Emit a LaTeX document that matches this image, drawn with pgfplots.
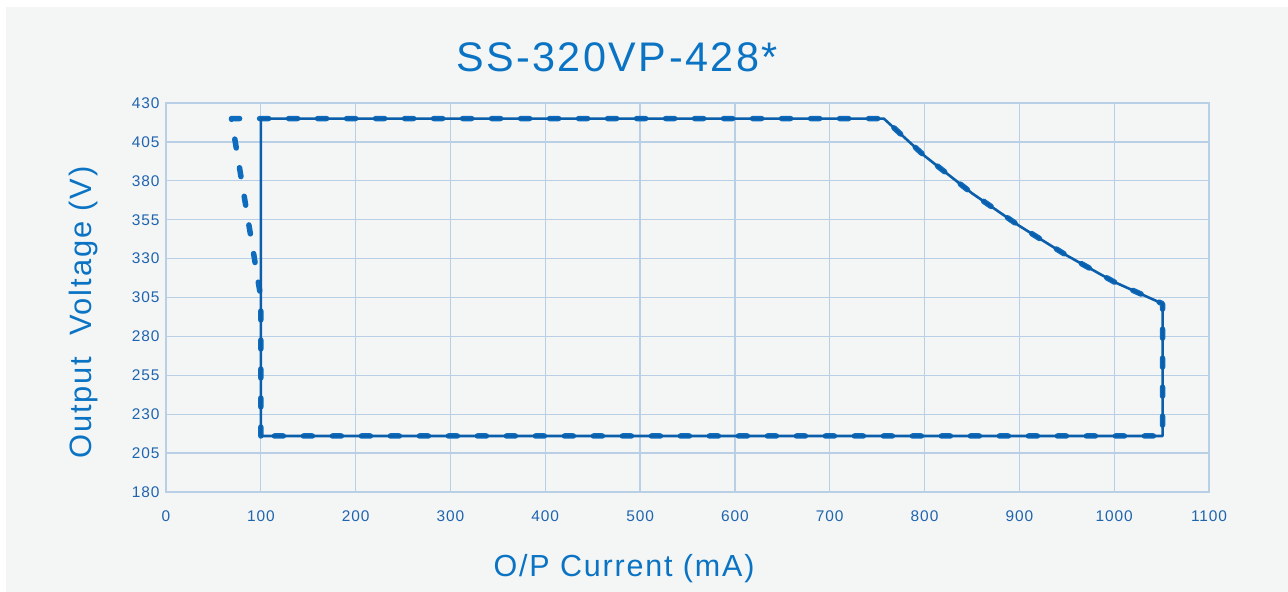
\documentclass[border=0pt]{standalone}
\usepackage{fontspec}
\setmainfont{Liberation Sans}[LetterSpace=6]
\usepackage{pgfplots}
\pgfplotsset{compat=1.18}
\definecolor{bgc}{RGB}{244,245,245}
\definecolor{gridc}{RGB}{184,207,230}
\definecolor{solidc}{RGB}{10,94,170}
\definecolor{dashc}{RGB}{14,108,190}
\definecolor{tickc}{RGB}{30,100,175}
\definecolor{titc}{RGB}{10,115,195}
\begin{document}
\begin{tikzpicture}
\useasboundingbox (0,0) rectangle (1288bp,592bp);
\fill[white] (0,0) rectangle (1288bp,592bp);
\fill[bgc] (6bp,0) rectangle (1288bp,585bp);
\begin{axis}[
  at={(166bp,100bp)}, anchor=south west,
  scale only axis, width=1043bp, height=389bp,
  xmin=0, xmax=1100, ymin=180, ymax=430,
  xtick={0,100,...,1100}, ytick={180,205,...,430},
  grid=major,
  grid style={color=gridc, line width=1.3bp},
  axis line style={color=gridc, line width=1.3bp},
  major tick length=0pt,
  /pgf/number format/assume math mode=true,
  /pgf/number format/1000 sep={},
  tick label style={font=\fontsize{15.5}{16}\selectfont, color=tickc},
  xticklabel style={yshift=-15bp},
  yticklabel style={xshift=-3bp},
]
\addplot[dashc, line width=5.5bp, dash pattern=on 9bp off 20bp, line cap=round, line join=round] coordinates {
(100,216) (100,305) (69,420) (757,420) (800,396) (850,372) (900,351) (950,332) (1000,315) (1051,301) (1051,216) (100,216)};
\addplot[solidc, line width=2.6bp, line join=round] coordinates {
(100,216) (100,420) (757,420) (800,396) (850,372) (900,351) (950,332) (1000,315) (1051,301) (1051,216) (100,216)};
\end{axis}
\node[anchor=base, text=titc, font=\fontsize{41.5}{42}\selectfont, inner sep=0] at (617bp,520bp) {SS-320VP-428*};
\node[anchor=base, text=titc, font=\fontsize{30.6}{31}\selectfont, inner sep=0] at (624bp,15.5bp) {O/P Current (mA)};
\node[anchor=base, rotate=90, text=titc, font=\fontsize{31}{31}\selectfont, inner sep=0] at (91bp,279.5bp) {Output\ \ Voltage (V)};
\end{tikzpicture}
\end{document}
